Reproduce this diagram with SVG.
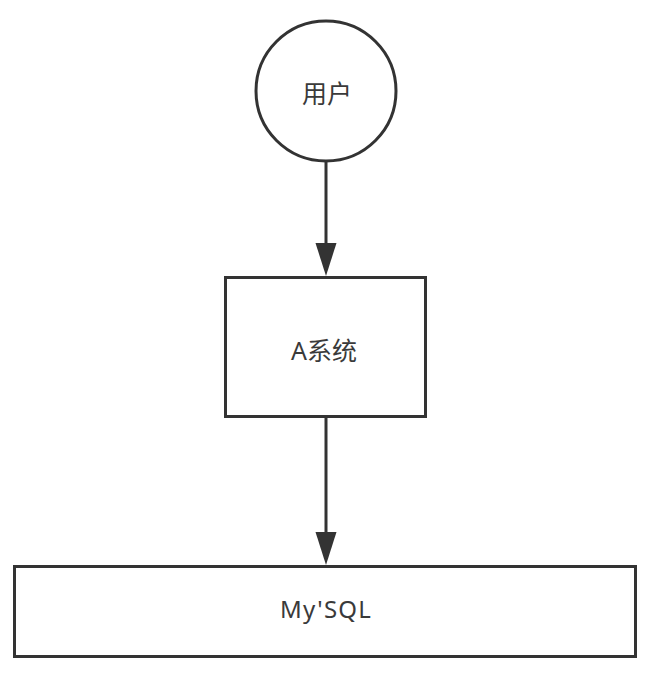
<svg xmlns="http://www.w3.org/2000/svg" width="650" height="674" viewBox="0 0 650 674">
  <style>
    .shape { fill: #ffffff; stroke: #333333; stroke-width: 3; }
    .edge { fill: none; stroke: #333333; stroke-width: 3; }
    .head { fill: #333333; stroke: none; }
    .label { font-family: "Noto Sans", "Noto Sans CJK SC", sans-serif; font-size: 25px; fill: #3a3a3a; text-anchor: middle; dominant-baseline: central; }
    .latin { font-size: 24px; letter-spacing: 1.2px; }
  </style>
  <rect width="650" height="674" fill="#ffffff"/>
  <g id="connectors">
    <path class="edge" d="M326,162 L326,243"/>
    <path class="head" d="M315.5,243 L336.5,243 L326,276 Z"/>
    <path class="edge" d="M326,417 L326,532"/>
    <path class="head" d="M315.5,532 L336.5,532 L326,565 Z"/>
  </g>
  <g id="node-user">
    <circle class="shape" cx="326" cy="91" r="70"/>
    <text class="label" x="327" y="93">用户</text>
  </g>
  <g id="node-a">
    <rect class="shape" x="225.5" y="277.5" width="200" height="139"/>
    <text class="label" x="324" y="350">A系统</text>
  </g>
  <g id="node-mysql">
    <rect class="shape" x="14.5" y="566.5" width="621" height="90"/>
    <text class="label latin" x="326" y="608">My'SQL</text>
  </g>
</svg>
